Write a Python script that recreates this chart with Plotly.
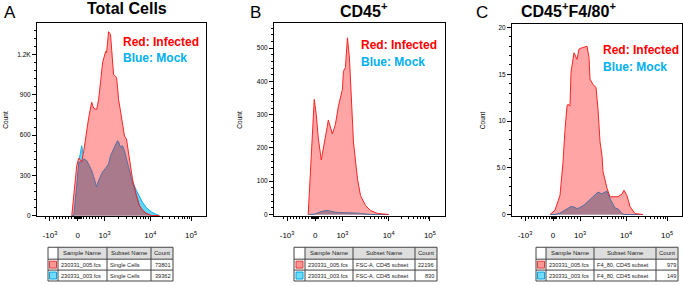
import numpy as np
import plotly.graph_objects as go

W, H = 683, 285

# ---------------- data ----------------
# x positions are logicle display channels (0-170 across each plot)
A_x = [35, 37, 40, 42, 45, 47, 50, 52, 55, 57, 60, 62, 64, 66, 69, 70, 72, 74, 77, 80,
       81, 82, 84, 86, 88, 90, 94, 96, 100, 103, 106, 110, 115, 119, 123]
A_infected = [0, 150, 373, 428, 400, 480, 645, 730, 845, 800, 790, 867, 1000, 1141, 1223, 1215,
              1371, 1349, 1052, 1030, 960, 867, 780, 690, 593, 570, 348, 274, 148, 74, 40, 15, 0, 0, 0]
A_mock = [0, 0, 225, 400, 521, 422, 410, 380, 336, 290, 213, 262, 291, 326, 353, 362, 385, 447,
          496, 541, 558, 551, 509, 521, 484, 422, 299, 250, 188, 139, 100, 60, 27, 12, 0]

B_x = [34, 36, 38, 40, 42, 44, 47, 50, 53, 54, 56, 58, 61, 64, 68, 69, 71, 73, 75, 77,
       79, 83, 86, 91, 96, 103, 114]
B_infected = [0, 120, 257, 346, 300, 230, 164, 210, 265, 284, 260, 242, 270, 325, 376, 430,
              442, 531, 471, 346, 218, 107, 57, 27, 12, 3, 0]
B_mock = [0, 0, 0, 1, 3, 6, 9, 11, 12, 12, 10, 8, 7, 6, 6, 6, 5, 5, 5, 5, 5, 4, 3, 1, 0, 0, 0]

C_x = [38, 43, 48, 51, 53, 55, 56, 58, 59, 62, 65, 67, 69, 72, 75, 77, 78, 81, 84, 86,
       88, 90, 91, 95, 98, 103, 106, 110, 112, 115, 118, 123, 131]
C_infected = [0, 0.46, 2.05, 5.6, 9.1, 11.6, 11.8, 11.6, 15.2, 17.3, 16.6, 17.7, 17.8, 17.9,
              18.0, 16.8, 14.5, 13.9, 13.6, 11.3, 7.8, 6.3, 4.6, 2.8, 1.9, 1.9, 1.9, 2.2, 2.6,
              2.0, 0.85, 0.1, 0]
C_mock = [0, 0, 0.15, 0.35, 0.46, 0.6, 0.7, 0.8, 0.85, 0.8, 0.64, 0.7, 0.8, 1.0, 1.3, 1.5,
          1.6, 2.0, 2.3, 2.4, 2.3, 2.2, 2.3, 2.5, 1.7, 0.7, 0.6, 0.1, 0, 0, 0, 0, 0]

x_tick_vals = [13, 41, 68, 114, 155]
x_tick_text = ["-10<sup>3</sup>", "0", "10<sup>3</sup>", "10<sup>4</sup>", "10<sup>5</sup>"]

A_y_ticks = [0, 300, 600, 900, 1200]
A_y_text = ["0", "300", "600", "900", "1.2K"]
B_y_ticks = [0, 100, 200, 300, 400, 500]
B_y_text = ["0", "100", "200", "300", "400", "500"]
C_y_ticks = [0, 5, 10, 15, 20]
C_y_text = ["0", "5.0", "10", "15", "20"]

titles = ["Total Cells", "CD45<sup>+</sup>", "CD45<sup>+</sup>F4/80<sup>+</sup>"]
letters = ["A", "B", "C"]
sample_names = ["230331_005.fcs", "230331_003.fcs"]
A_subsets = ["Single Cells", "Single Cells"]
B_subsets = ["FSC-A, CD45 subset", "FSC-A, CD45 subset"]
C_subsets = ["F4_80, CD45 subset", "F4_80, CD45 subset"]
A_counts = [73801, 39362]
B_counts = [22196, 830]
C_counts = [979, 149]
table_headers = ["", "Sample Name", "Subset Name", "Count"]

# ---------------- styling / layout constants ----------------
FONT = "Arial, Liberation Sans, sans-serif"
PINK = "rgb(255,165,165)"
RED_LINE = "rgb(250,35,35)"
CYAN_FILL = "rgb(95,212,247)"
CYAN_LINE = "rgb(20,175,235)"
MAUVE = "rgb(168,122,140)"
SLATE = "rgb(85,110,160)"

def px(x):
    return x / W

def py(y):
    return 1 - y / H

panels = [
    dict(x=A_x, inf=A_infected, mock=A_mock, yt=A_y_ticks, ytt=A_y_text, yr=[-7, 1437], ydt=60,
         box=(37, 206, 23, 218), sub=A_subsets, cnt=A_counts, tl=48, cw=[10, 49, 44, 22],
         title_xy=(127, 8.5), letter_xy=(10, 13), legend_xy=(122, 42, 58), count_x=6),
    dict(x=B_x, inf=B_infected, mock=B_mock, yt=B_y_ticks, ytt=B_y_text, yr=[-6, 576], ydt=20,
         box=(274, 445, 23, 218), sub=B_subsets, cnt=B_counts, tl=294, cw=[11, 48, 62, 22],
         title_xy=(364, 10.5), letter_xy=(255, 12.5), legend_xy=(360, 45, 62), count_x=240),
    dict(x=C_x, inf=C_infected, mock=C_mock, yt=C_y_ticks, ytt=C_y_text, yr=[-0.21, 20.4], ydt=1,
         box=(512, 682, 24, 218), sub=C_subsets, cnt=C_counts, tl=536, cw=[10, 48, 62, 22],
         title_xy=(568, 10), letter_xy=(482, 12.5), legend_xy=(602, 50, 67), count_x=482),
]

# minor ticks of the logicle axis
minor_x = []
minor_x += [13 + k * 28 / 9 for k in range(1, 9)]
minor_x += [37.5, 39, 40, 42, 43, 44.5]
minor_x += [41 + k * 27 / 9 for k in range(1, 9)]
minor_x += [68 + np.log10(k) * 46 for k in range(2, 10)]
minor_x += [114 + np.log10(k) * 41 for k in range(2, 10)]
minor_x += [9]
minor_x = sorted(set(round(float(v), 2) for v in minor_x))

fig = go.Figure()
shapes = []
annotations = []
layout = {}

row_edges = [249, 261, 272, 283]
head_font = dict(family=FONT, size=6, color="#222")
table_font = dict(family=FONT, size=5.6, color="#222")
icon_fill = ["rgb(255,150,150)", "rgb(110,220,250)"]
icon_line = ["rgb(225,60,60)", "rgb(0,165,225)"]

for i, p in enumerate(panels):
    n = "" if i == 0 else str(i + 1)
    xa, ya = "x" + n, "y" + n
    x = np.array(p["x"], dtype=float)
    inf = np.array(p["inf"], dtype=float)
    mock = np.array(p["mock"], dtype=float)
    both = np.minimum(inf, mock)

    fig.add_trace(go.Scatter(x=x, y=mock, mode="lines", fill="tozeroy", fillcolor=CYAN_FILL,
                             line=dict(color=CYAN_LINE, width=1), xaxis=xa, yaxis=ya,
                             showlegend=False, hoverinfo="skip"))
    fig.add_trace(go.Scatter(x=x, y=inf, mode="lines", fill="tozeroy", fillcolor=PINK,
                             line=dict(color=PINK, width=0), xaxis=xa, yaxis=ya,
                             showlegend=False, hoverinfo="skip"))
    fig.add_trace(go.Scatter(x=x, y=both, mode="lines", fill="tozeroy", fillcolor=MAUVE,
                             line=dict(color=SLATE, width=1), xaxis=xa, yaxis=ya,
                             showlegend=False, hoverinfo="skip"))
    fig.add_trace(go.Scatter(x=x, y=inf, mode="lines", line=dict(color=RED_LINE, width=1),
                             xaxis=xa, yaxis=ya, showlegend=False, hoverinfo="skip"))

    l, r, t, b = p["box"]
    layout["xaxis" + n] = dict(
        domain=[px(l), px(r)], range=[0, 170], anchor=ya,
        showline=True, linecolor="black", linewidth=1, mirror=True,
        showgrid=False, zeroline=False,
        tickmode="array", tickvals=x_tick_vals, ticktext=x_tick_text,
        ticks="outside", ticklen=4, tickwidth=1, tickcolor="black",
        ticklabelstandoff=7,
        tickfont=dict(family=FONT, size=8, color="black"),
        minor=dict(tickmode="array", tickvals=minor_x, ticks="outside", ticklen=2,
                   tickwidth=1, tickcolor="black"),
        fixedrange=True,
    )
    layout["yaxis" + n] = dict(
        domain=[py(b), py(t)], range=p["yr"], anchor=xa,
        showline=True, linecolor="black", linewidth=1, mirror=True,
        showgrid=False, zeroline=False,
        tickmode="array", tickvals=p["yt"], ticktext=p["ytt"],
        ticks="outside", ticklen=4, tickwidth=1, tickcolor="black",
        tickfont=dict(family=FONT, size=6.5, color="black"),
        minor=dict(dtick=p["ydt"], tick0=0, ticks="outside", ticklen=2, tickwidth=1,
                   tickcolor="black"),
        fixedrange=True,
    )

    # titles, letters, legends, axis title
    tx, ty = p["title_xy"]
    annotations.append(dict(x=px(tx), y=py(ty), text="<b>" + titles[i] + "</b>", showarrow=False,
                            xref="paper", yref="paper", xanchor="center", yanchor="middle",
                            font=dict(family=FONT, size=16, color="black")))
    lx, ly = p["letter_xy"]
    annotations.append(dict(x=px(lx), y=py(ly), text=letters[i], showarrow=False,
                            xref="paper", yref="paper", xanchor="center", yanchor="middle",
                            font=dict(family=FONT, size=17, color="black")))
    gx, gy1, gy2 = p["legend_xy"]
    annotations.append(dict(x=px(gx), y=py(gy1), text="<b>Red: Infected</b>", showarrow=False,
                            xref="paper", yref="paper", xanchor="left", yanchor="middle",
                            font=dict(family=FONT, size=12, color="rgb(255,0,0)")))
    annotations.append(dict(x=px(gx), y=py(gy2), text="<b>Blue: Mock</b>", showarrow=False,
                            xref="paper", yref="paper", xanchor="left", yanchor="middle",
                            font=dict(family=FONT, size=12, color="rgb(0,176,240)")))
    annotations.append(dict(x=px(p["count_x"]), y=py((t + b) / 2), text="Count", showarrow=False,
                            xref="paper", yref="paper", xanchor="center", yanchor="middle",
                            textangle=-90, font=dict(family=FONT, size=6.5, color="black")))

    # statistics table
    edges = [p["tl"]]
    for w in p["cw"]:
        edges.append(edges[-1] + w)
    for c in range(1, 4):
        shapes.append(dict(type="rect", xref="paper", yref="paper",
                           x0=px(edges[c]), x1=px(edges[c + 1]),
                           y0=py(row_edges[1]), y1=py(row_edges[0]),
                           fillcolor="rgb(222,222,222)", line=dict(width=0), layer="below"))
    for e in edges:
        shapes.append(dict(type="line", xref="paper", yref="paper", x0=px(e), x1=px(e),
                           y0=py(row_edges[-1]), y1=py(row_edges[0]),
                           line=dict(color="#444", width=1)))
    for rr in row_edges:
        shapes.append(dict(type="line", xref="paper", yref="paper", x0=px(edges[0]),
                           x1=px(edges[-1]), y0=py(rr), y1=py(rr),
                           line=dict(color="#444", width=1)))
    hy = (row_edges[0] + row_edges[1]) / 2
    for c in range(1, 4):
        annotations.append(dict(x=px((edges[c] + edges[c + 1]) / 2), y=py(hy),
                                text=table_headers[c], showarrow=False, xref="paper", yref="paper",
                                xanchor="center", yanchor="middle", font=head_font))
    for rI in range(2):
        cy = (row_edges[rI + 1] + row_edges[rI + 2]) / 2
        cx = (edges[0] + edges[1]) / 2
        shapes.append(dict(type="rect", xref="paper", yref="paper",
                           x0=px(cx - 3.5), x1=px(cx + 3.5), y0=py(cy + 3.5), y1=py(cy - 3.5),
                           fillcolor=icon_fill[rI], line=dict(color=icon_line[rI], width=1)))
        annotations.append(dict(x=px(edges[1] + 1.5), y=py(cy), text=sample_names[rI],
                                showarrow=False, xref="paper", yref="paper", xanchor="left",
                                yanchor="middle", font=table_font))
        annotations.append(dict(x=px(edges[2] + 1.5), y=py(cy), text=p["sub"][rI],
                                showarrow=False, xref="paper", yref="paper", xanchor="left",
                                yanchor="middle", font=table_font))
        annotations.append(dict(x=px(edges[4] - 1.5), y=py(cy), text=str(p["cnt"][rI]),
                                showarrow=False, xref="paper", yref="paper", xanchor="right",
                                yanchor="middle", font=table_font))

fig.update_layout(
    width=W, height=H, margin=dict(l=0, r=0, t=0, b=0, pad=0),
    paper_bgcolor="white", plot_bgcolor="white",
    shapes=shapes, annotations=annotations, showlegend=False,
    **layout,
)
for a in fig.layout.annotations:
    a.update(borderpad=0)

fig.write_html("out.html", config=dict(displayModeBar=False))
